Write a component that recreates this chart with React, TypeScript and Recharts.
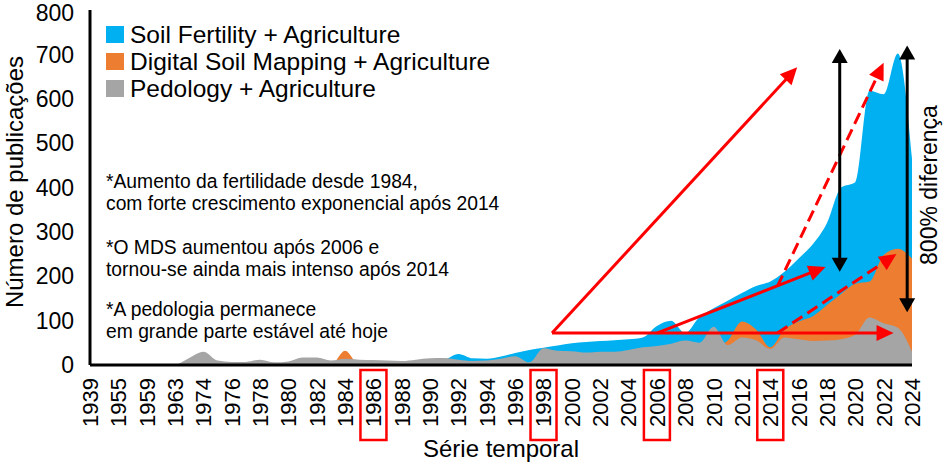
import { AreaChart, Area, XAxis, YAxis, ReferenceLine } from 'recharts';

const RED = '#FF0000';

// categories (every other one gets a label on the axis)
const years = [
  '1939', '1951', '1955', '1957', '1959', '1961', '1963', '1968',
  '1974', '1975', '1976', '1977', '1978', '1979', '1980', '1981', '1982', '1983',
  '1984', '1985', '1986', '1987', '1988', '1989',
  '1990', '1991', '1992', '1993', '1994', '1995', '1996', '1997',
  '1998', '1999', '2000', '2001', '2002', '2003', '2004', '2005',
  '2006', '2007', '2008', '2009', '2010', '2011', '2012', '2013',
  '2014', '2015', '2016', '2017', '2018', '2019', '2020', '2021',
  '2022', '2023', '2024',
];

const soilFertility = [
  0, 0, 0, 0, 0, 0, 0, 0,
  0, 0, 0, 0, 0, 0, 0, 0, 0, 0,
  2, 3, 3, 4, 5, 6,
  8, 12, 25, 15, 14, 19, 27, 34,
  39, 44, 49, 52, 54, 56, 58, 62,
  88, 100, 72, 108, 128, 145, 162, 178,
  188, 210, 240, 272, 320, 400, 412, 618,
  610, 702, 465,
];

const digitalSoilMapping = [
  0, 0, 0, 0, 0, 0, 0, 0,
  0, 0, 0, 0, 0, 0, 0, 0, 0, 0,
  32, 0, 0, 0, 0, 0,
  0, 0, 1, 1, 2, 2, 3, 3,
  4, 5, 6, 8, 10, 12, 15, 18,
  22, 26, 30, 35, 40, 55, 98, 80,
  40, 80, 98, 110, 135, 160, 183, 188,
  248, 262, 240,
];

const pedology = [
  0, 0, 0, 0, 0, 0, 1, 16,
  30, 10, 7, 7, 12, 6, 8, 17, 17, 10,
  14, 12, 11, 10, 9, 12,
  15, 16, 12, 9, 10, 14, 20, 6,
  38, 32, 31, 28, 30, 30, 34, 40,
  43, 48, 55, 50, 86, 45, 62, 56,
  36, 62, 58, 54, 55, 58, 68, 107,
  94, 84, 30,
];

const yTicks = [0, 100, 200, 300, 400, 500, 600, 700, 800];
const boxedYears = ['1986', '1998', '2006', '2014'];

const legendItems = [
  { name: 'Soil Fertility + Agriculture', color: '#00B0F0' },
  { name: 'Digital Soil Mapping + Agriculture', color: '#ED7D31' },
  { name: 'Pedology + Agriculture', color: '#A5A5A5' },
];

// annotation arrows, in (category index, value) units
const redArrows = [
  { from: [32.6, 72], to: [49.9, 671], dashed: false },
  { from: [32.6, 72], to: [56.7, 72], dashed: false },
  { from: [40.0, 72], to: [51.9, 221], dashed: false },
  { from: [48.5, 177], to: [56.0, 681], dashed: true },
  { from: [48.5, 72], to: [56.9, 250], dashed: true },
];
const blackArrows = [
  { x: 52.9, from: 210, to: 712 },
  { x: 57.66, from: 119, to: 720 },
];

const data = years.map((year, i) => ({
  year,
  i,
  fertility: soilFertility[i],
  dsm: digitalSoilMapping[i],
  pedology: pedology[i],
}));

function arrowShape(color: string, dashed: boolean, bothEnds: boolean) {
  return (props: any) => {
    const { x1, y1, x2, y2 } = props;
    const a = Math.atan2(y2 - y1, x2 - x1);
    const cos = Math.cos(a);
    const sin = Math.sin(a);
    const len = bothEnds ? 14 : 17;
    const half = 8;
    const head = (tx: number, ty: number, dir: number) => {
      const bx = tx - dir * len * cos;
      const by = ty - dir * len * sin;
      return `${tx},${ty} ${bx - half * sin},${by + half * cos} ${bx + half * sin},${by - half * cos}`;
    };
    const sx = bothEnds ? x1 + len * 0.8 * cos : x1;
    const sy = bothEnds ? y1 + len * 0.8 * sin : y1;
    return (
      <g>
        <line
          x1={sx}
          y1={sy}
          x2={x2 - len * 0.8 * cos}
          y2={y2 - len * 0.8 * sin}
          stroke={color}
          strokeWidth={3}
          strokeDasharray={dashed ? '12 6' : undefined}
        />
        <polygon points={head(x2, y2, 1)} fill={color} />
        {bothEnds && <polygon points={head(x1, y1, -1)} fill={color} />}
      </g>
    );
  };
}

function YearTick(props: any) {
  const { x, y, payload } = props;
  const boxed = boxedYears.includes(payload.value);
  return (
    <g transform={`translate(${x},${y})`}>
      {boxed && (
        <rect x={-13} y={-3} width={26} height={70} fill="none" stroke={RED} strokeWidth={2.5} />
      )}
      <text transform="rotate(-90)" x={-5} y={0} dy="0.36em" textAnchor="end" fontSize={22} fill="#000">
        {payload.value}
      </text>
    </g>
  );
}

const noteStyle = {
  position: 'absolute' as const,
  left: 106,
  fontSize: 19.3,
  lineHeight: '22px',
  whiteSpace: 'nowrap' as const,
  color: '#000',
};

export default function App() {
  return (
    <div
      style={{
        position: 'relative',
        width: 945,
        height: 465,
        background: '#fff',
        fontFamily: '"Liberation Sans", Arial, sans-serif',
      }}
    >
      <style>{'body{margin:0}'}</style>
      <AreaChart width={945} height={465} data={data} margin={{ top: 10, right: 33, bottom: 0, left: 0 }}>
        <XAxis
          dataKey="year"
          interval={1}
          tickLine={false}
          axisLine={{ stroke: '#000', strokeWidth: 3 }}
          tick={<YearTick />}
          height={100}
          label={{ value: 'Série temporal', position: 'insideBottom', offset: 8, fontSize: 24, fill: '#000' }}
        />
        <XAxis xAxisId="n" type="number" dataKey="i" domain={[0, 58]} hide />
        <YAxis
          domain={[0, 800]}
          ticks={yTicks}
          tickLine={false}
          axisLine={{ stroke: '#000', strokeWidth: 3 }}
          tick={{ fill: '#000', fontSize: 23 }}
          tickMargin={10}
          width={90}
        />
        <Area
          type="monotone"
          dataKey="fertility"
          name="Soil Fertility + Agriculture"
          fill="#00B0F0"
          fillOpacity={1}
          stroke="none"
          isAnimationActive={false}
          activeDot={false}
        />
        <Area
          type="monotone"
          dataKey="dsm"
          name="Digital Soil Mapping + Agriculture"
          fill="#ED7D31"
          fillOpacity={1}
          stroke="none"
          isAnimationActive={false}
          activeDot={false}
        />
        <Area
          type="monotone"
          dataKey="pedology"
          name="Pedology + Agriculture"
          fill="#A5A5A5"
          fillOpacity={1}
          stroke="none"
          isAnimationActive={false}
          activeDot={false}
        />
        {redArrows.map((a, k) => (
          <ReferenceLine
            key={`r${k}`}
            xAxisId="n"
            segment={[
              { x: a.from[0], y: a.from[1] },
              { x: a.to[0], y: a.to[1] },
            ]}
            ifOverflow="visible"
            shape={arrowShape(RED, a.dashed, false)}
          />
        ))}
        {blackArrows.map((a, k) => (
          <ReferenceLine
            key={`b${k}`}
            xAxisId="n"
            segment={[
              { x: a.x, y: a.from },
              { x: a.x, y: a.to },
            ]}
            ifOverflow="visible"
            shape={arrowShape('#000', false, true)}
          />
        ))}
      </AreaChart>

      {/* legend */}
      <div style={{ position: 'absolute', left: 106, top: 21, fontSize: 24.5, lineHeight: '27px', color: '#000' }}>
        {legendItems.map((item) => (
          <div key={item.name} style={{ display: 'flex', alignItems: 'center', whiteSpace: 'nowrap' }}>
            <span style={{ width: 18, height: 17, background: item.color, marginRight: 6, display: 'inline-block' }} />
            {item.name}
          </div>
        ))}
      </div>

      {/* notes */}
      <div style={{ ...noteStyle, top: 171 }}>
        *Aumento da fertilidade desde 1984,
        <br />
        com forte crescimento exponencial após 2014
      </div>
      <div style={{ ...noteStyle, top: 237 }}>
        *O MDS aumentou após 2006 e
        <br />
        tornou-se ainda mais intenso após 2014
      </div>
      <div style={{ ...noteStyle, top: 299 }}>
        *A pedologia permanece
        <br />
        em grande parte estável até hoje
      </div>

      {/* axis title and side note */}
      <div
        style={{
          position: 'absolute',
          left: 15 - 200,
          top: 182 - 12,
          width: 400,
          height: 24,
          lineHeight: '24px',
          fontSize: 24,
          textAlign: 'center',
          transform: 'rotate(-90deg)',
          whiteSpace: 'nowrap',
        }}
      >
        Número de publicações
      </div>
      <div
        style={{
          position: 'absolute',
          left: 929 - 150,
          top: 185 - 12,
          width: 300,
          height: 24,
          lineHeight: '24px',
          fontSize: 23,
          textAlign: 'center',
          transform: 'rotate(-90deg)',
          whiteSpace: 'nowrap',
        }}
      >
        800% diferença
      </div>
    </div>
  );
}
